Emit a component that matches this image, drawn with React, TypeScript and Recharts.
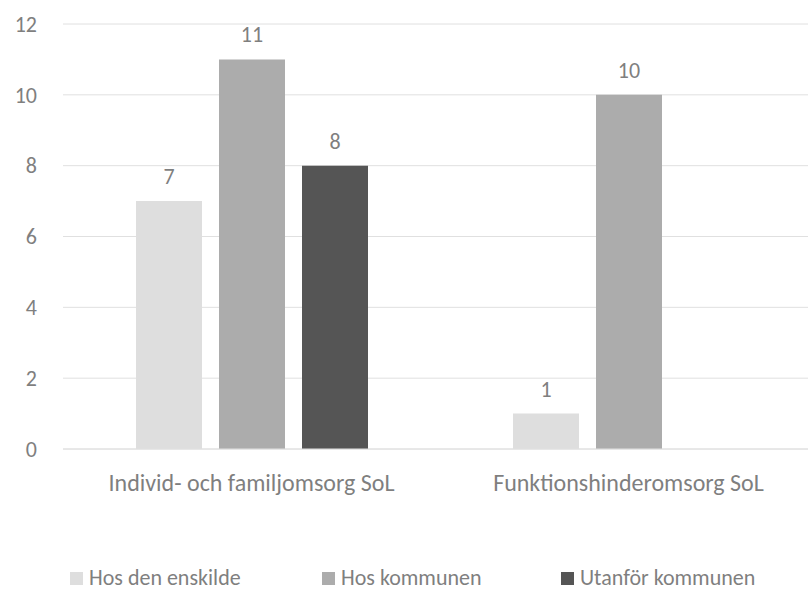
import { BarChart, Bar, XAxis, YAxis, CartesianGrid, LabelList } from 'recharts'

const categories = ['Individ- och familjomsorg SoL', 'Funktionshinderomsorg SoL']
const hosDenEnskilde = [7, 1]
const hosKommunen = [11, 10]
const utanforKommunen: (number | null)[] = [8, null]
const yTicks = [0, 2, 4, 6, 8, 10, 12]

const series = [
  { key: 'enskilde', name: 'Hos den enskilde', values: hosDenEnskilde, color: '#dedede' },
  { key: 'kommunen', name: 'Hos kommunen', values: hosKommunen, color: '#acacac' },
  { key: 'utanfor', name: 'Utanför kommunen', values: utanforKommunen, color: '#555555' },
]

// widths of the legend slots (excel spaces them unevenly)
const legendSlots = [252, 239, 240]

const FONT = 'Carlito, Calibri, Lato, sans-serif'
const TEXT = '#7f7f7f'

const data = categories.map((name, i) => {
  const row: Record<string, string | number | null> = { name }
  series.forEach(s => { row[s.key] = s.values[i] })
  return row
})

export default function App() {
  return (
    <div style={{ position: 'absolute', left: 0, top: 0, width: 808, height: 590, overflow: 'hidden', background: '#fff', fontFamily: FONT }}>
      {/* plot runs a bit past the right edge in the original, so draw wider and clip */}
      <BarChart
        width={817}
        height={590}
        data={data}
        margin={{ top: 24, right: 0, bottom: 81, left: 0 }}
        barSize={66}
        barGap={17}
      >
        <CartesianGrid stroke="#e0e0e0" vertical={false} />
        <XAxis
          dataKey="name"
          height={60}
          tickSize={0}
          tickMargin={25}
          axisLine={{ stroke: '#e0e0e0' }}
          tickLine={false}
          tick={{ fontSize: 24, fill: TEXT, fontFamily: FONT }}
        />
        <YAxis
          width={63}
          domain={[0, 12]}
          ticks={yTicks}
          tickSize={0}
          tickMargin={26}
          axisLine={false}
          tickLine={false}
          tick={{ fontSize: 22, fill: TEXT, fontFamily: FONT }}
        />
        {series.map(s => (
          <Bar key={s.key} dataKey={s.key} name={s.name} fill={s.color} isAnimationActive={false}>
            <LabelList dataKey={s.key} position="top" offset={17} style={{ fontSize: 22, fill: TEXT, fontFamily: FONT }} />
          </Bar>
        ))}
      </BarChart>
      <div style={{ position: 'absolute', top: 567, left: 70, display: 'flex', fontSize: 22, color: TEXT, lineHeight: '22px' }}>
        {series.map((s, i) => (
          <div key={s.key} style={{ width: legendSlots[i], display: 'flex', alignItems: 'center', whiteSpace: 'nowrap' }}>
            <span style={{ display: 'inline-block', width: 13, height: 13, background: s.color, marginRight: 6 }} />
            <span>{s.name}</span>
          </div>
        ))}
      </div>
    </div>
  )
}
